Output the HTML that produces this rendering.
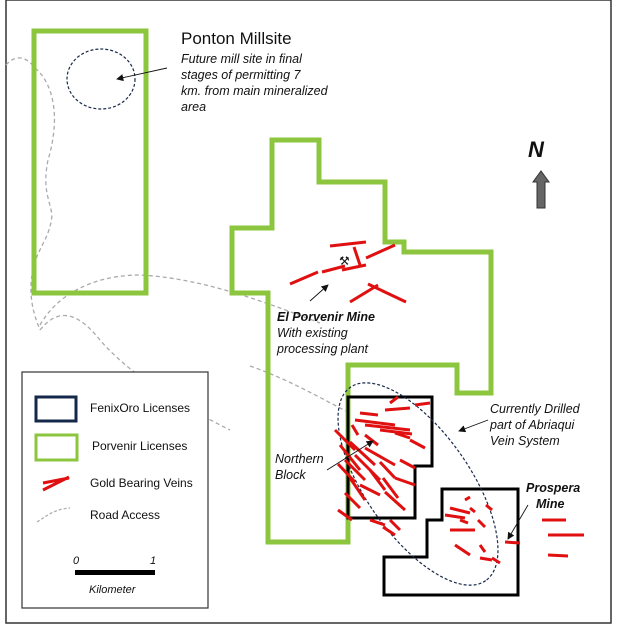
<!DOCTYPE html>
<html><head><meta charset="utf-8"><style>
html,body{margin:0;padding:0;background:#fff;}
svg{display:block;}
text{font-family:"Liberation Sans",sans-serif;}
</style></head><body>
<svg width="617" height="632" viewBox="0 0 617 632" xmlns="http://www.w3.org/2000/svg">
<rect x="0" y="0" width="617" height="632" fill="#fff"/>
<rect x="6" y="0" width="605" height="623" fill="none" stroke="#333" stroke-width="1.5"/>
<defs><marker id="ar" markerWidth="8" markerHeight="8" refX="7" refY="4" orient="auto"><path d="M0,0 L8,4 L0,8 z" fill="#111"/></marker></defs>
<!-- roads -->
<g fill="none" stroke="#aaa" stroke-width="1.3" stroke-dasharray="4,3">
<path d="M6,65 C15,55 25,55 35,68 C55,85 60,120 48,160 C42,190 50,200 52,215 C50,240 35,250 32,275 C28,300 36,320 40,330"/>
<path d="M40,325 C60,290 100,275 140,275 C200,278 260,300 320,323"/>
<path d="M40,330 C60,305 80,315 100,340 C130,375 180,405 230,430"/>
<path d="M250,366 C290,380 320,398 348,412"/>
</g>
<!-- green licenses -->
<g fill="none" stroke="#8cc63f" stroke-width="5">
<rect x="34" y="31" width="112" height="262"/>
<path d="M272,140 L319,140 L319,182 L385,182 L385,242 L404,242 L404,252 L491,252 L491,393 L457,393 L457,365 L348,365 L348,542 L268,542 L268,293 L232,293 L232,228 L272,228 Z"/>
</g>
<!-- black licenses -->
<g fill="none" stroke="#000" stroke-width="3">
<path d="M348,397 L432,397 L432,466 L415,466 L415,518 L348,518 Z"/>
<path d="M442,489 L518,489 L518,595 L384,595 L384,557 L427,557 L427,520 L442,520 Z"/>
</g>
<!-- ellipses -->
<ellipse cx="101" cy="79" rx="34" ry="30" fill="none" stroke="#1a2a4a" stroke-width="1.2" stroke-dasharray="3,2"/>
<ellipse cx="418" cy="484" rx="118" ry="52" transform="rotate(55 418 484)" fill="none" stroke="#1a2a4a" stroke-width="1.2" stroke-dasharray="3,2"/>
<!-- veins -->
<g stroke="#e01010" stroke-width="3" stroke-linecap="butt">
<line x1="330" y1="246" x2="366" y2="242"/><line x1="354" y1="247" x2="360" y2="265"/><line x1="342" y1="270" x2="366" y2="265"/>
<line x1="366" y1="258" x2="395" y2="245"/><line x1="290" y1="284" x2="318" y2="272"/><line x1="322" y1="272" x2="345" y2="266"/>
<line x1="350" y1="302" x2="378" y2="285"/><line x1="368" y1="284" x2="406" y2="302"/>
<line x1="360" y1="413" x2="378" y2="415"/><line x1="385" y1="410" x2="410" y2="408"/><line x1="415" y1="405" x2="430" y2="403"/>
<line x1="390" y1="403" x2="398" y2="397"/><line x1="355" y1="420" x2="395" y2="425"/><line x1="365" y1="425" x2="410" y2="430"/>
<line x1="380" y1="430" x2="412" y2="434"/><line x1="395" y1="433" x2="410" y2="438"/><line x1="352" y1="425" x2="358" y2="435"/>
<line x1="335" y1="430" x2="355" y2="450"/><line x1="340" y1="445" x2="360" y2="470"/><line x1="350" y1="442" x2="375" y2="465"/>
<line x1="345" y1="460" x2="365" y2="480"/><line x1="355" y1="455" x2="380" y2="480"/><line x1="365" y1="448" x2="395" y2="465"/>
<line x1="370" y1="470" x2="385" y2="490"/><line x1="380" y1="462" x2="395" y2="478"/><line x1="350" y1="478" x2="365" y2="500"/>
<line x1="360" y1="485" x2="380" y2="495"/><line x1="385" y1="492" x2="405" y2="510"/><line x1="395" y1="478" x2="415" y2="485"/>
<line x1="383" y1="478" x2="398" y2="498"/><line x1="400" y1="460" x2="415" y2="468"/><line x1="410" y1="440" x2="425" y2="448"/>
<line x1="365" y1="435" x2="378" y2="445"/><line x1="338" y1="464" x2="355" y2="482"/><line x1="345" y1="493" x2="360" y2="508"/>
<line x1="370" y1="520" x2="385" y2="525"/><line x1="383" y1="527" x2="395" y2="535"/><line x1="338" y1="510" x2="352" y2="520"/>
<line x1="390" y1="520" x2="400" y2="530"/><line x1="465" y1="500" x2="470" y2="497"/><line x1="450" y1="508" x2="470" y2="513"/>
<line x1="445" y1="515" x2="465" y2="518"/><line x1="470" y1="508" x2="475" y2="512"/><line x1="478" y1="520" x2="485" y2="527"/>
<line x1="450" y1="530" x2="475" y2="530"/><line x1="455" y1="545" x2="470" y2="555"/><line x1="480" y1="545" x2="485" y2="552"/>
<line x1="480" y1="558" x2="492" y2="560"/><line x1="492" y1="558" x2="500" y2="563"/><line x1="505" y1="542" x2="520" y2="543"/>
<line x1="542" y1="520" x2="566" y2="520"/><line x1="548" y1="535" x2="584" y2="535"/><line x1="548" y1="555" x2="568" y2="556"/>
<line x1="486" y1="505" x2="492" y2="510"/><line x1="460" y1="520" x2="468" y2="523"/>
</g>
<!-- mine symbol -->
<text x="339" y="265" font-size="12" fill="#111">⚒</text>
<!-- arrows -->
<g stroke="#111" stroke-width="0.9" fill="none" marker-end="url(#ar)">
<line x1="167" y1="68" x2="117" y2="79"/>
<line x1="310" y1="301" x2="328" y2="285"/>
<line x1="488" y1="420" x2="459" y2="431"/>
<line x1="327" y1="470" x2="373" y2="441"/>
<line x1="528" y1="505" x2="508" y2="539"/>
</g>
<!-- labels -->
<text x="181" y="44" font-size="17" fill="#111">Ponton Millsite</text>
<g font-size="12.5" font-style="italic" fill="#111">
<text x="181" y="63">Future mill site in final</text>
<text x="181" y="79">stages of permitting 7</text>
<text x="181" y="95">km. from main mineralized</text>
<text x="181" y="111">area</text>
<text x="277" y="321" font-weight="bold">El Porvenir Mine</text>
<text x="277" y="337">With existing</text>
<text x="277" y="353">processing plant</text>
<text x="490" y="413">Currently Drilled</text>
<text x="490" y="429">part of Abriaqui</text>
<text x="490" y="445">Vein System</text>
<text x="275" y="463">Northern</text>
<text x="275" y="479">Block</text>
<text x="526" y="492" font-weight="bold">Prospera</text>
<text x="536" y="508" font-weight="bold">Mine</text>
</g>
<!-- North -->
<text x="528" y="157" font-size="22" font-weight="bold" font-style="italic" fill="#111">N</text>
<path d="M537,208 L537,182 L533,182 L541,171 L549,182 L545,182 L545,208 Z" fill="#666" stroke="#333" stroke-width="1"/>
<!-- legend -->
<rect x="22" y="372" width="186" height="236" fill="#fff" stroke="#333" stroke-width="1.2"/>
<rect x="36" y="397" width="40" height="24" fill="none" stroke="#14284a" stroke-width="3"/>
<rect x="36" y="435" width="41" height="25" fill="none" stroke="#8cc63f" stroke-width="3"/>
<path d="M43,490 L69,477 M43,483 L69,478" stroke="#e01010" stroke-width="3"/>
<path d="M37,522 C48,515 55,509 70,508" stroke="#aaa" stroke-width="1.2" stroke-dasharray="3,2" fill="none"/>
<g font-size="12" fill="#111">
<text x="90" y="412">FenixOro Licenses</text>
<text x="92" y="450">Porvenir Licenses</text>
<text x="90" y="487">Gold Bearing Veins</text>
<text x="90" y="519">Road Access</text>
</g>
<g font-size="11" font-style="italic" fill="#111">
<text x="73" y="564">0</text>
<text x="150" y="564">1</text>
<text x="89" y="593">Kilometer</text>
</g>
<rect x="75" y="570" width="80" height="5" fill="#000"/>
</svg>
</body></html>
